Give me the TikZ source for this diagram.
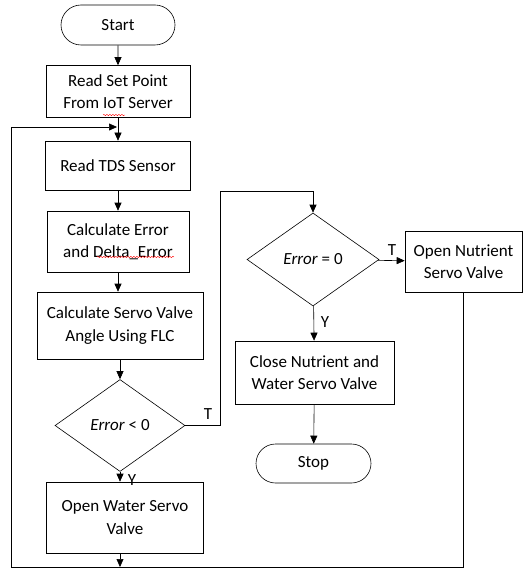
\documentclass[tikz,border=0pt]{standalone}
\usepackage{fontspec}
\setmainfont{Carlito}
\usetikzlibrary{arrows.meta,shapes.geometric,shapes.misc,decorations.pathmorphing}

\begin{document}
\begin{tikzpicture}[x=1pt,y=-1pt,semithick,font=\fontsize{17}{22.5}\selectfont]
  \tikzstyle{every node}=[align=center,inner sep=0pt]
  \tikzstyle{flow}=[-{Triangle[length=8pt,width=7pt]}]
  \tikzstyle{process}=[draw,rectangle,minimum width=144pt,minimum height=52pt]
  \tikzstyle{terminal}=[draw,rounded rectangle,minimum width=114pt,minimum height=40pt]
  \tikzstyle{decision}=[draw,diamond,minimum width=130pt,minimum height=92pt]
  \tikzstyle{spell}=[red,thin,decorate,decoration={snake,amplitude=0.7pt,segment length=3pt}]

  \useasboundingbox (0,0) rectangle (525,572);

  % main column
  \node[terminal] (start) at (118,25)    {Start};
  \node[process]  (rsp)   at (118,91.5)  {Read Set Point\\From IoT Server};
  \node[process,minimum width=145pt,minimum height=49pt] (tds) at (118,165.5) {Read TDS Sensor};
  \node[process,minimum width=142pt,minimum height=61pt] (err) at (118,241.5) {Calculate Error\\and Delta\_Error};
  \node[process,minimum width=166pt,minimum height=67pt] (flc) at (120,325.5) {Calculate Servo Valve\\Angle Using FLC};
  \node[decision] (neg)   at (120,425.5) {\textit{Error} < 0};
  \node[process,minimum width=157pt,minimum height=71pt] (water) at (125,517.5) {Open Water Servo\\Valve};

  % right column
  \node[decision,minimum width=132pt,minimum height=93pt] (zero) at (313,259.5) {\textit{Error} = 0};
  \node[process,minimum width=117pt,minimum height=61pt] (nutr) at (463.5,261.5) {Open Nutrient\\Servo Valve};
  \node[process,minimum width=159pt,minimum height=63pt] (close) at (314.5,372.5) {Close Nutrient and\\Water Servo Valve};
  \node[terminal,minimum width=115pt,minimum height=39pt] (stop) at (313.5,463.5) {Stop};

  \coordinate (loopin) at (117,127);
  \coordinate (tl)     at (11,127);
  \coordinate (bl)     at (11,567);
  \coordinate (loopbot) at (120,567);
  \coordinate (tr)     at (220,191);

  \path[flow]
  (start) edge (rsp)
  (rsp)   edge (tds)
  (tds)   edge (err)
  (err.south) edge (err.south |- flc.north)
  (flc)   edge (neg)
  (neg.south) edge (neg.south |- water.north)
  (water.south -| loopbot) edge (loopbot)
  (zero)  edge (close)
  (zero)  edge (nutr)
  (close) edge (stop);

  % branches and loop back
  \draw[flow] (neg.east) -| (tr) -| (zero.north);
  \draw[flow] (nutr.south) |- (bl) -- (tl) -- (loopin);

  % labels
  \node at (208,414) {T};
  \node at (132,480) {Y};
  \node at (392,250) {T};
  \node at (325,322) {Y};

  % spell-check marks
  \draw[spell] (103,115) -- (125,115);
  \draw[spell] (97,257) -- (174,257);
\end{tikzpicture}
\end{document}
